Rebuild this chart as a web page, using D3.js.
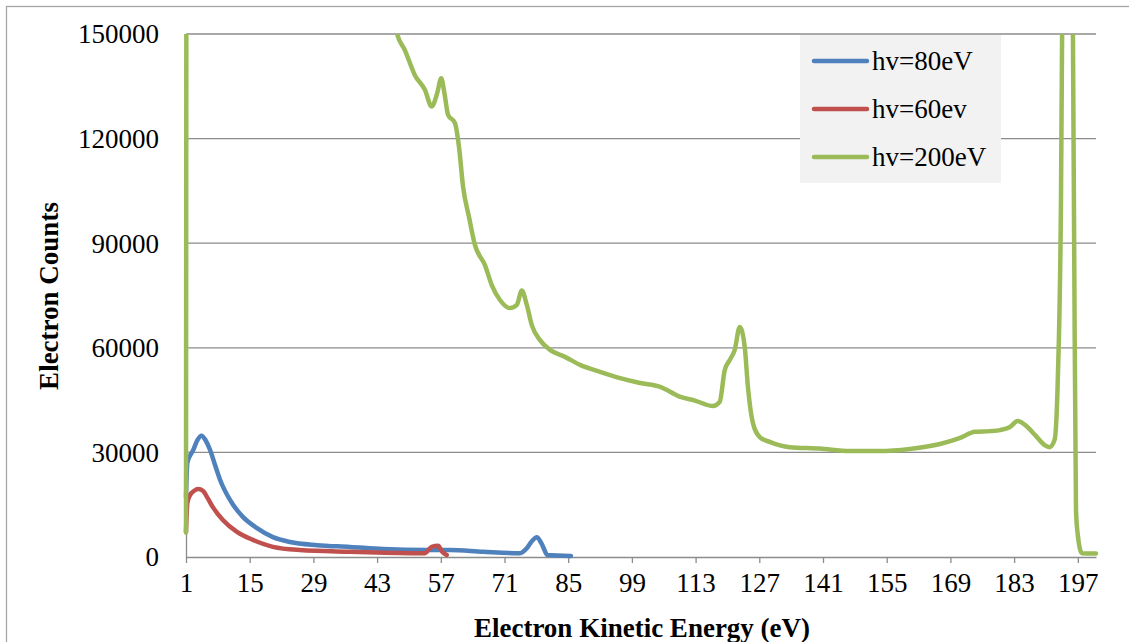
<!DOCTYPE html>
<html>
<head>
<meta charset="utf-8">
<script src="https://cdn.jsdelivr.net/npm/d3@7"></script>
<style>
body { margin:0; background:#fff; }
text { font-family: "Liberation Serif", "Times New Roman", serif; fill:#000; }
</style>
</head>
<body>
<div id="chart"></div>
<script>
// values: [kinetic energy (eV), counts]
var hv80 = [[1,17200],[1.3,27000],[2.6,30700],[3.5,33500],[4.4,34800],[5.3,33500],[6.3,30700],[7.4,26300],[8.5,22100],
    [10.7,16300],[13.5,11500],[16.6,8300],[20.1,5700],[23.9,4300],[29.8,3400],[37,2900],[44.3,2300],[53.9,2000],
    [59,2000],[66.3,1500],[74.4,1100],[75.9,2500],[77,4500],[78.1,5700],[79,4200],[79.5,2900],[80.4,600],[85.6,300]];
var hv60 = [[1,7200],[1.3,15500],[1.9,17800],[2.8,19000],[3.7,19500],[4.7,19000],[5.8,16800],[6.9,14300],[9.1,10600],
    [12.2,7200],[15.7,4900],[20.1,2900],[26,2000],[37,1500],[51.7,1100],[53.5,1100],[55,2900],[56.4,3200],
    [57.3,1500],[58.3,600]];
var hv200 = [[1,7000],[1.3,400000],[20,300000],[40,200000],[46,160000],[47.4,150000],[49.1,145400],[51.3,138200],
    [53.5,134000],[55,129200],[56.2,133000],[57.1,137300],[57.8,133000],[58.6,126800],[60.1,124500],[61,117600],
    [61.9,106100],[63.2,97500],[64.5,89500],[66.7,83700],[68.2,78000],[70,73700],[72.2,71400],[73.7,72300],
    [74.8,76400],[75.9,72300],[77,66500],[78.8,62200],[81,59400],[84.3,57400],[87.6,55100],[92,53100],
    [96.4,51300],[100.8,49900],[105.2,48800],[109.5,46000],[113,44800],[116.8,43300],[118.3,44500],[119.4,53600],
    [120.5,56500],[121.6,59400],[122.7,66000],[123.8,60200],[124.5,48800],[125.6,38400],[127.1,34400],
    [129.3,33000],[133.7,31500],[140.3,31100],[146.9,30400],[153.5,30400],[160.1,31000],[166.7,32400],
    [171,34100],[174.4,35900],[177.7,36100],[179.9,36400],[182,37200],[183.8,39000],[185.4,37900],[187.6,35000],
    [189.7,32100],[190.8,31500],[191.9,33600],[192.6,50800],[193.3,102000],[193.8,200000],[194.8,320000],
    [195.7,200000],[196.2,90000],[196.6,13500],[197,6300],[197.9,1100],[201,1000]];

var seriesNames = ["hv=80eV","hv=60ev","hv=200eV"];
var seriesColors = ["#4f81bd","#c0504d","#9bbb59"];
var xTicks = [1,15,29,43,57,71,85,99,113,127,141,155,169,183,197];
var yTicks = [0,30000,60000,90000,120000,150000];

var w = 1129, h = 642;
var padL = 186, padR = 1096, padT = 34, padB = 557;

var svg = d3.select("#chart").append("svg")
    .attr("width", w)
    .attr("height", h);

// outer frame (only left and top visible in the picture)
svg.append("rect")
    .attr("x", 6.5).attr("y", 6.5)
    .attr("width", 1140).attr("height", 700)
    .attr("fill", "none")
    .attr("stroke", "#a6a6a6")
    .attr("stroke-width", 1.3);

var x = d3.scaleLinear().domain([1, 201]).range([padL, padR]);
var y = d3.scaleLinear().domain([0, 150000]).range([padB, padT]);

// gridlines
svg.append("g")
    .selectAll("line")
    .data(yTicks.slice(1))
    .enter().append("line")
    .attr("x1", padL).attr("x2", padR)
    .attr("y1", function(d) { return y(d); })
    .attr("y2", function(d) { return y(d); })
    .attr("stroke", "#8c8c8c")
    .attr("stroke-width", 1.3);

// y axis
var yaxis = d3.axisLeft(y).tickValues(yTicks).tickSize(0).tickPadding(27)
    .tickFormat(d3.format("d"));
var gY = svg.append("g")
    .attr("transform", "translate(" + padL + ",0)")
    .call(yaxis);
gY.select(".domain").attr("stroke", "#8c8c8c").attr("stroke-width", 1.3);
gY.selectAll("text")
    .style("font-family", "Liberation Serif")
    .style("font-size", "27px")
    .attr("dy", "0.33em");

// x axis
var xaxis = d3.axisBottom(x).tickValues(xTicks).tickSizeInner(6).tickSizeOuter(0).tickPadding(10);
var gX = svg.append("g")
    .attr("transform", "translate(0," + padB + ")")
    .call(xaxis);
gX.select(".domain").attr("stroke", "#8c8c8c").attr("stroke-width", 1.3);
gX.selectAll("line").attr("stroke", "#8c8c8c").attr("stroke-width", 1.3);
gX.selectAll("text")
    .style("font-family", "Liberation Serif")
    .style("font-size", "27px")
    .attr("dy", "0.72em");

// series
svg.append("clipPath").attr("id", "clip")
    .append("rect")
    .attr("x", 0).attr("y", padT)
    .attr("width", w).attr("height", h - padT);

var line = d3.line()
    .x(function(d) { return x(d[0]); })
    .y(function(d) { return y(d[1]); })
    .curve(d3.curveMonotoneX);

var all = [hv80, hv60, hv200];
svg.append("g")
    .attr("clip-path", "url(#clip)")
    .selectAll("path")
    .data(all)
    .enter().append("path")
    .attr("d", line)
    .attr("fill", "none")
    .attr("stroke", function(d, i) { return seriesColors[i]; })
    .attr("stroke-width", 4.5)
    .attr("stroke-linejoin", "round")
    .attr("stroke-linecap", "round");

// legend
var lg = svg.append("g");
lg.append("rect")
    .attr("x", 800).attr("y", 35)
    .attr("width", 201).attr("height", 148)
    .attr("fill", "#f2f2f2");
var items = lg.selectAll("g.item")
    .data(seriesNames)
    .enter().append("g")
    .attr("transform", function(d, i) { return "translate(0," + (61 + i * 48) + ")"; });
items.append("line")
    .attr("x1", 814).attr("x2", 867)
    .attr("stroke", function(d, i) { return seriesColors[i]; })
    .attr("stroke-width", 4.5)
    .attr("stroke-linecap", "round");
items.append("text")
    .attr("x", 872).attr("y", 9)
    .style("font-size", "27px")
    .text(function(d) { return d; });

// axis titles
svg.append("text")
    .attr("x", 642).attr("y", 637)
    .attr("text-anchor", "middle")
    .style("font-size", "27px")
    .style("font-weight", "bold")
    .text("Electron Kinetic Energy (eV)");

svg.append("text")
    .attr("transform", "translate(58,296) rotate(-90)")
    .attr("text-anchor", "middle")
    .style("font-size", "27px")
    .style("font-weight", "bold")
    .text("Electron Counts");
</script>
</body>
</html>
